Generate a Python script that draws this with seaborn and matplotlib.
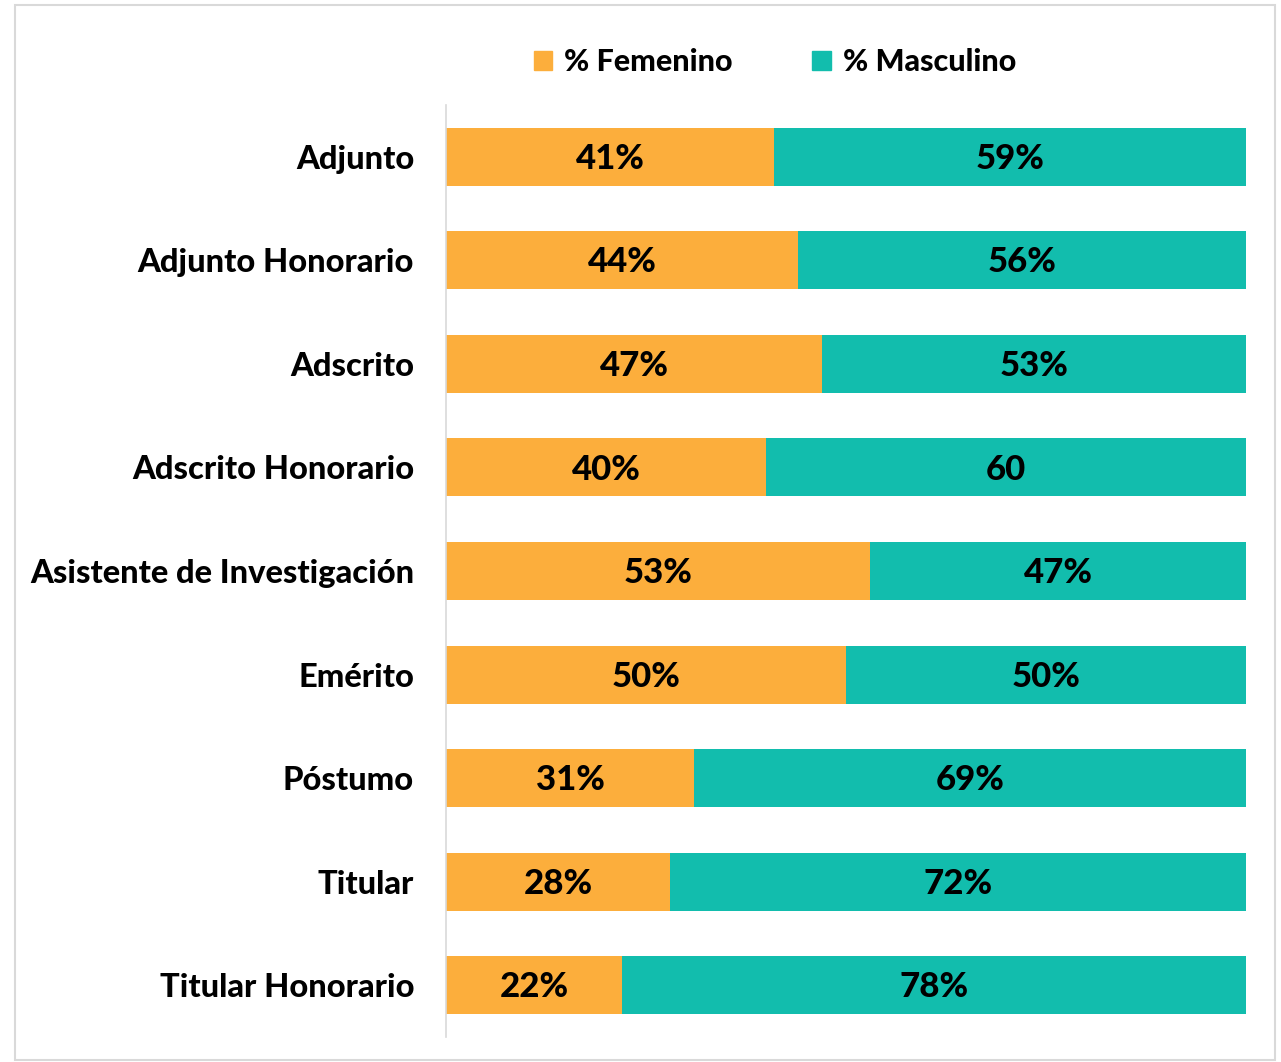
import pandas as pd
import matplotlib
matplotlib.use("Agg")
import matplotlib.pyplot as plt
import seaborn as sns
from matplotlib.patches import Rectangle, Patch

categorias = ["Adjunto", "Adjunto Honorario", "Adscrito", "Adscrito Honorario",
              "Asistente de Investigación", "Emérito", "Póstumo", "Titular",
              "Titular Honorario"]
femenino = [41, 44, 47, 40, 53, 50, 31, 28, 22]
masculino = [59, 56, 53, 60, 47, 50, 69, 72, 78]
etiquetas_fem = ["41%", "44%", "47%", "40%", "53%", "50%", "31%", "28%", "22%"]
etiquetas_masc = ["59%", "56%", "53%", "60", "47%", "50%", "69%", "72%", "78%"]

naranja = "#FCAE3C"
verde = "#12BDAD"

sns.set_theme(style="white")
plt.rcParams['font.family'] = ['Lato', 'DejaVu Sans']
plt.rcParams['text.color'] = 'black'
plt.rcParams['ytick.color'] = 'black'

df = pd.DataFrame({"cat": categorias, "fem": femenino, "masc": masculino})
df["total"] = df["fem"] + df["masc"]

fig = plt.figure(figsize=(12.81, 10.62), dpi=100)
ax = fig.add_axes([0.3482, 0.0235, 0.6245, 0.8776])

sns.barplot(data=df, y="cat", x="total", color=verde, width=0.56,
            orient="h", ax=ax, saturation=1, edgecolor="none")
sns.barplot(data=df, y="cat", x="fem", color=naranja, width=0.56,
            orient="h", ax=ax, saturation=1, edgecolor="none")

for i, (f, m) in enumerate(zip(femenino, masculino)):
    ax.text(f / 2, i + 0.02, etiquetas_fem[i], ha="center", va="center",
            fontsize=25, fontweight="black", color="black")
    ax.text(f + m / 2, i + 0.02, etiquetas_masc[i], ha="center", va="center",
            fontsize=25, fontweight="black", color="black")

ax.set_xlim(0, 100)
ax.set_ylim(len(categorias) - 0.5, -0.5)
ax.set_xlabel("")
ax.set_ylabel("")
ax.set_xticks([])
ax.tick_params(axis="y", length=0, pad=23, labelsize=23.5, labelcolor="black")
for lbl in ax.get_yticklabels():
    lbl.set_fontweight("black")
for s in ["top", "right", "bottom"]:
    ax.spines[s].set_visible(False)
ax.spines["left"].set_color("#d9d9d9")
ax.spines["left"].set_linewidth(1.2)

handles = [Patch(color=naranja, label="% Femenino"),
           Patch(color=verde, label="% Masculino")]
leg = fig.legend(handles=handles, loc="center", bbox_to_anchor=(775 / 1281, 1 - 62 / 1062),
                 ncol=2, frameon=False, prop={"size": 22, "weight": "black"},
                 handlelength=0.6, handleheight=0.6, handletextpad=0.4, columnspacing=2.6)
for t in leg.get_texts():
    t.set_color("black")

fig.patches.append(Rectangle((15 / 1281, 2 / 1062), 1260 / 1281, 1055 / 1062,
                             transform=fig.transFigure, fill=False,
                             edgecolor="#d9d9d9", linewidth=1.5))

fig.savefig("out.png", dpi=100)
